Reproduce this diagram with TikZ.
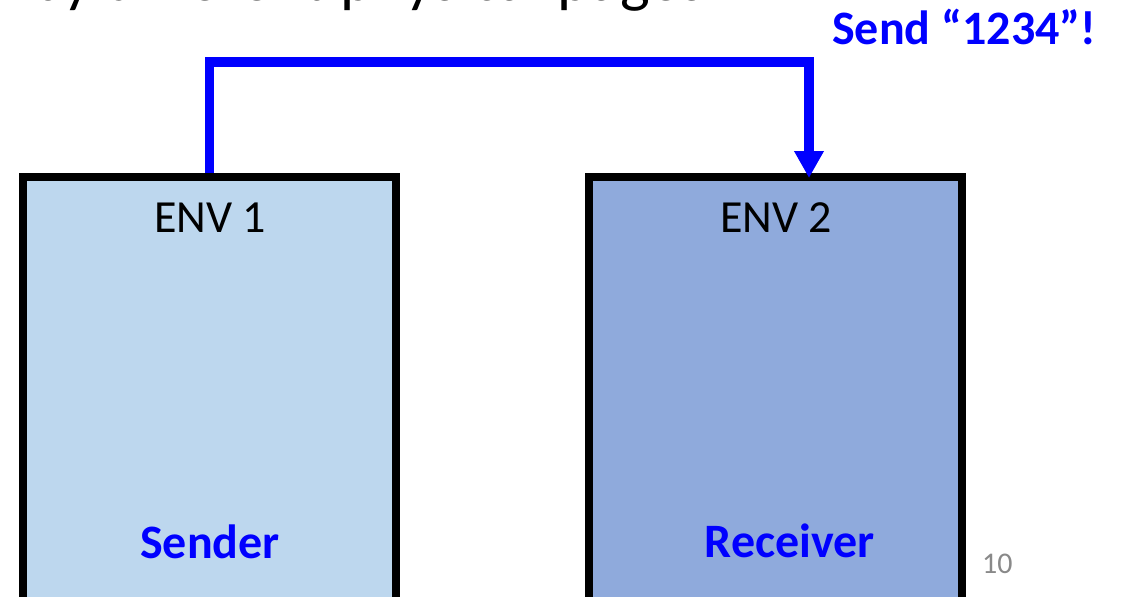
\documentclass[tikz,border=0pt]{standalone}
\usepackage{fontspec}
\setmainfont{Carlito}
\usetikzlibrary{arrows.meta}
\definecolor{envA}{HTML}{BDD7EE}
\definecolor{envB}{HTML}{8FAADC}
\definecolor{msgblue}{HTML}{0000FF}
\definecolor{pagegray}{HTML}{898989}
\begin{document}
\begin{tikzpicture}[x=1pt, y=-1pt,
  envbox/.style={draw=black, line width=8pt, minimum width=372.5pt,
    minimum height=480pt, inner sep=0pt},
  envname/.style={anchor=base, inner sep=0pt, text=black,
    font=\fontsize{46}{50}\selectfont},
  role/.style={anchor=base, inner sep=0pt, text=msgblue,
    font=\bfseries\fontsize{48}{52}\selectfont},
  msg/.style={draw=msgblue, line width=9.5pt, line join=miter,
    -{Triangle[width=28pt,length=27pt]}}]
  \useasboundingbox (0,0) rectangle (1122,597);
  \clip (0,0) rectangle (1122,597);

  % slide title, only its lower edge shows
  \node[anchor=base west, inner sep=0pt, font=\fontsize{63}{68}\selectfont]
    (title) at (30,0) {\llap{separated }by different physical pages};

  % the two environments
  \node[envbox, fill=envA] (env1) at (209.25,417) {};
  \node[envbox, fill=envB] (env2) at (775.35,416.5) {};

  \node[envname] (env1name) at (210,232) {ENV 1};
  \node[envname] (env2name) at (776,232) {ENV 2};

  \node[role] (sender) at (210,558) {Sender};
  \node[role] (receiver) at (790,557) {Receiver};

  % message path from sender to receiver
  \coordinate (bend) at (809,62);
  \draw[msg] (env1.north) |- (bend)
    -- ([xshift=33.65pt,yshift=-5.5pt]env2.north);

  \node[anchor=base west, inner sep=0pt, text=msgblue,
    font=\bfseries\fontsize{48}{52}\selectfont]
    (sendlabel) at (832,44) {Send “1234”!};

  % page number
  \node[anchor=base west, inner sep=0pt, text=pagegray,
    font=\fontsize{30}{34}\selectfont] (pagenum) at (982,573) {10};
\end{tikzpicture}
\end{document}
